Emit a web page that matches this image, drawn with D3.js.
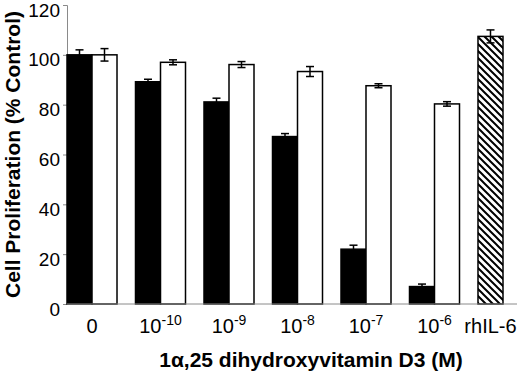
<!DOCTYPE html>
<html>
<head>
<meta charset="utf-8">
<script src="https://cdn.jsdelivr.net/npm/d3@7"></script>
<style>
  body { margin: 0; background: #fff; }
  svg { display: block; font-family: Arial, "Liberation Sans", sans-serif; }
</style>
</head>
<body>
<div id="chart"></div>
<script>
// doses of 1a,25 dihydroxyvitamin D3, last group is the rhIL-6 control
const doses = ["0", "1e-10", "1e-9", "1e-8", "1e-7", "1e-6", "rhIL-6"];
const tickBase = ["0", "10", "10", "10", "10", "10", "rhIL-6"];
const tickExp = [null, "-10", "-9", "-8", "-7", "-6", null];
const seriesKeys = ["treated", "control"];

// % of control, black bars and white bars
const treatedValues = [100, 89.2, 81.1, 67.2, 22, 7, null];
const treatedErrors = [2, 1, 1.5, 1.2, 1.6, 1, null];
const controlValues = [100, 97, 96.1, 93.3, 87.6, 80.3, null];
const controlErrors = [2.5, 1, 1.2, 2, 0.8, 0.9, null];
// rhIL-6 hatched bar
const il6Value = 107.4;
const il6Error = 2.6;

const yTicks = [0, 20, 40, 60, 80, 100, 120];

const width = 520, height = 374;
const margin = { left: 67, top: 5, bottom: 70 };
const axisEnd = 517;

const svg = d3.select("#chart").append("svg")
  .attr("width", width).attr("height", height);

const defs = svg.append("defs");
const hatch = defs.append("pattern")
  .attr("id", "hatch")
  .attr("patternUnits", "userSpaceOnUse")
  .attr("width", 7).attr("height", 7);
hatch.append("rect").attr("width", 7).attr("height", 7).attr("fill", "#fff");
hatch.append("path")
  .attr("d", "M-1,-1 L8,8 M-1,6 L1,8 M6,-1 L8,1")
  .attr("stroke", "#000").attr("stroke-width", 2);

const y = d3.scaleLinear().domain([0, 120]).range([height - margin.bottom, margin.top]);

const x = d3.scaleBand().domain(doses)
  .range([margin.left, 528])
  .paddingInner(0.27).paddingOuter(0);
const x1 = d3.scaleBand().domain(seriesKeys).range([0, x.bandwidth()]);

// y axis
const yAxis = svg.append("g")
  .attr("transform", `translate(${margin.left},0)`)
  .call(d3.axisLeft(y).tickValues(yTicks).tickSize(4).tickPadding(3));
yAxis.selectAll("path, line").attr("stroke", "#8a8a8a").attr("stroke-width", 1);
yAxis.selectAll("text")
  .attr("font-size", 19).attr("fill", "#000")
  .attr("font-family", "Arial, 'Liberation Sans', sans-serif")
  .attr("dy", "0.32em")
  .attr("transform", "translate(0,5)");

// bars
const rows = doses.map((d, i) => ({
  dose: d, treated: treatedValues[i], treatedErr: treatedErrors[i],
  control: controlValues[i], controlErr: controlErrors[i]
})).filter((r) => r.treated != null);

const bars = [];
rows.forEach((r) => {
  bars.push({ dose: r.dose, key: "treated", v: r.treated, e: r.treatedErr, fill: "#000" });
  bars.push({ dose: r.dose, key: "control", v: r.control, e: r.controlErr, fill: "#fff" });
});
bars.push({ dose: "rhIL-6", key: "treated", v: il6Value, e: il6Error, fill: "url(#hatch)" });

svg.append("g").selectAll("rect")
  .data(bars)
  .join("rect")
  .attr("x", (d) => x(d.dose) + x1(d.key))
  .attr("width", x1.bandwidth())
  .attr("y", (d) => y(d.v))
  .attr("height", (d) => y(0) - y(d.v))
  .attr("fill", (d) => d.fill)
  .attr("stroke", "#000")
  .attr("stroke-width", 1.5);

// error bars
const err = svg.append("g").attr("stroke", "#000").attr("stroke-width", 1.5);
bars.forEach((d) => {
  const cx = x(d.dose) + x1(d.key) + x1.bandwidth() / 2;
  const hi = y(d.v + d.e), lo = y(d.v - d.e);
  err.append("line").attr("x1", cx).attr("x2", cx).attr("y1", hi).attr("y2", lo)
    .attr("stroke", d.fill === "#000" ? "#000" : "#000");
  err.append("line").attr("x1", cx - 4).attr("x2", cx + 4).attr("y1", hi).attr("y2", hi);
  err.append("line").attr("x1", cx - 4).attr("x2", cx + 4).attr("y1", lo).attr("y2", lo)
    .attr("stroke", d.fill === "#000" ? "#fff" : "#000")
    .attr("opacity", d.fill === "#000" ? 0 : 1);
});

// x axis baseline
svg.append("line")
  .attr("x1", margin.left).attr("x2", axisEnd)
  .attr("y1", y(0)).attr("y2", y(0))
  .attr("stroke", "#8a8a8a").attr("stroke-width", 1);

// x tick labels
const labelY = y(0) + 29;
doses.forEach((d, i) => {
  const cx = tickExp[i] === null && d === "rhIL-6"
    ? x(d) + x1("treated") + x1.bandwidth() / 2
    : x(d) + x.bandwidth() / 2;
  const t = svg.append("text")
    .attr("x", cx).attr("y", labelY)
    .attr("text-anchor", "middle")
    .attr("font-size", 20);
  t.append("tspan").text(tickBase[i]);
  if (tickExp[i]) {
    t.append("tspan").attr("font-size", 14).attr("dy", -8).text(tickExp[i]);
  }
});

// axis titles
svg.append("text")
  .attr("x", 311).attr("y", 367)
  .attr("text-anchor", "middle")
  .attr("font-size", 21).attr("font-weight", "bold")
  .text("1\u03b1,25 dihydroxyvitamin D3 (M)");

svg.append("text")
  .attr("transform", `translate(20,${(y(0) + y(120)) / 2}) rotate(-90)`)
  .attr("text-anchor", "middle")
  .attr("font-size", 21).attr("font-weight", "bold")
  .text("Cell Proliferation (% Control)");
</script>
</body>
</html>
